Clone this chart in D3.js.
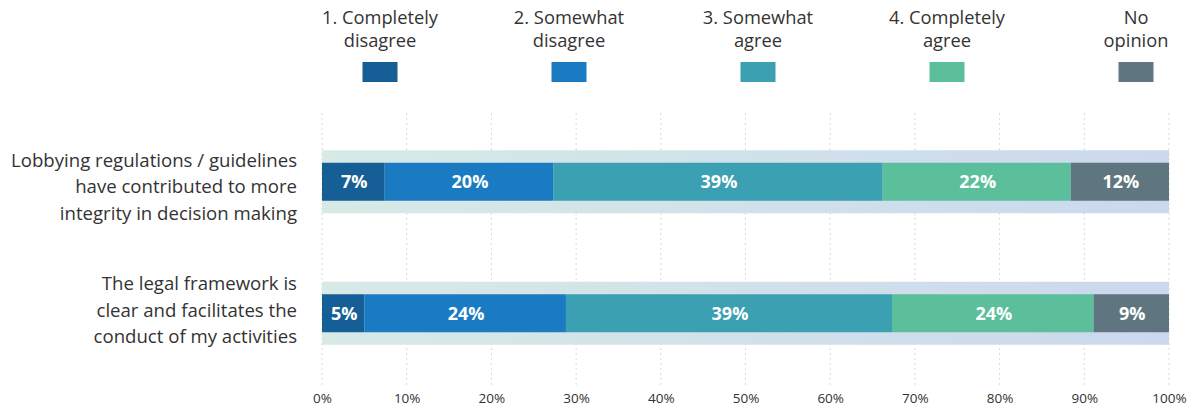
<!DOCTYPE html>
<html>
<head>
<meta charset="utf-8">
<script src="https://cdn.jsdelivr.net/npm/d3@7"></script>
<style>
  html, body { margin: 0; padding: 0; background: #fff; }
  svg { display: block; font-family: "Open Sans", sans-serif; }
</style>
</head>
<body>
<svg id="chart" width="1193" height="407"></svg>
<script>
const categories = [
  ["Lobbying regulations / guidelines", "have contributed to more", "integrity in decision making"],
  ["The legal framework is", "clear and facilitates the", "conduct of my activities"]
];
const seriesNames = [
  ["1. Completely", "disagree"],
  ["2. Somewhat", "disagree"],
  ["3. Somewhat", "agree"],
  ["4. Completely", "agree"],
  ["No", "opinion"]
];
const colors = ["#155f96", "#1a7bc2", "#3aa0b2", "#5bbf9b", "#5f7680"];
const row1Values = [7.4, 19.9, 38.9, 22.2, 11.6];
const row2Values = [5.0, 23.8, 38.5, 23.8, 8.9];
const valueRows = [row1Values, row2Values];
const tickValues = [0, 10, 20, 30, 40, 50, 60, 70, 80, 90, 100];
const tickLabels = ["0%", "10%", "20%", "30%", "40%", "50%", "60%", "70%", "80%", "90%", "100%"];

const svg = d3.select("#chart");
const x = d3.scaleLinear().domain([0, 100]).range([322, 1169]);
const y = d3.scaleBand().domain([0, 1]).range([116, 379]).paddingInner(0).paddingOuter(0);
const bandH = 63, barH = 38;
const labelOffsets = [-15, -23];

// gradient for background bands
const defs = svg.append("defs");
const grad = defs.append("linearGradient").attr("id", "bandGrad")
  .attr("x1", "0%").attr("x2", "100%").attr("y1", "0%").attr("y2", "0%");
grad.append("stop").attr("offset", "0%").attr("stop-color", "#d7eae6");
grad.append("stop").attr("offset", "100%").attr("stop-color", "#cbd8ee");

// gridlines
svg.append("g").selectAll("line").data(tickValues).join("line")
  .attr("x1", d => x(d)).attr("x2", d => x(d))
  .attr("y1", 113).attr("y2", 387)
  .attr("stroke", "#d9d9d9").attr("stroke-width", 1)
  .attr("stroke-dasharray", "2,3");

// axis labels
const axis = d3.axisBottom(x).tickValues(tickValues).tickFormat((d, i) => tickLabels[i]).tickSize(0).tickPadding(0);
const ax = svg.append("g").attr("transform", "translate(0,391)").call(axis);
ax.attr("font-size", null).attr("font-family", null);
ax.select(".domain").remove();
ax.selectAll("text")
  .style("font-size", "13.5px").style("font-family", "'Open Sans', sans-serif")
  .attr("fill", "#333").attr("dy", "0.9em");

// rows
valueRows.forEach((vals, r) => {
  const cy = y(r) + y.bandwidth() / 2;
  const g = svg.append("g");
  g.append("rect")
    .attr("x", x(0)).attr("width", x(100) - x(0))
    .attr("y", cy - bandH / 2).attr("height", bandH)
    .attr("fill", "url(#bandGrad)");
  let acc = 0;
  const segs = vals.map((v, i) => { const s = { start: acc, v, i }; acc += v; return s; });
  g.selectAll("rect.seg").data(segs).join("rect").attr("class", "seg")
    .attr("x", d => x(d.start)).attr("width", d => x(d.start + d.v) - x(d.start))
    .attr("y", cy - barH / 2).attr("height", barH)
    .attr("fill", d => colors[d.i]);
  g.selectAll("text.lbl").data(segs).join("text").attr("class", "lbl")
    .attr("x", d => x(d.start + d.v / 2) + 1).attr("y", cy + 6.5)
    .attr("text-anchor", "middle").attr("fill", "#fff")
    .attr("font-size", 18).attr("font-weight", "bold")
    .text(d => Math.round(d.v) + "%");
  // category label
  const t = svg.append("text").attr("text-anchor", "end").attr("fill", "#333").attr("font-size", 18.6);
  categories[r].forEach((line, k) => {
    t.append("tspan").attr("x", 297).attr("y", cy + labelOffsets[r] + k * 26.5).text(line);
  });
});

// legend
const lx = d3.scalePoint().domain(d3.range(seriesNames.length)).range([380, 1136]);
const lg = svg.append("g").selectAll("g").data(seriesNames).join("g")
  .attr("transform", (d, i) => `translate(${lx(i)},0)`);
lg.append("rect").attr("x", -17.5).attr("y", 62).attr("width", 35).attr("height", 20)
  .attr("fill", (d, i) => colors[i]);
lg.append("text").attr("text-anchor", "middle").attr("fill", "#333").attr("font-size", 18.3)
  .each(function(d) {
    const t = d3.select(this);
    d.forEach((line, k) => t.append("tspan").attr("x", 0).attr("y", 24 + k * 23).text(line));
  });
</script>
</body>
</html>
